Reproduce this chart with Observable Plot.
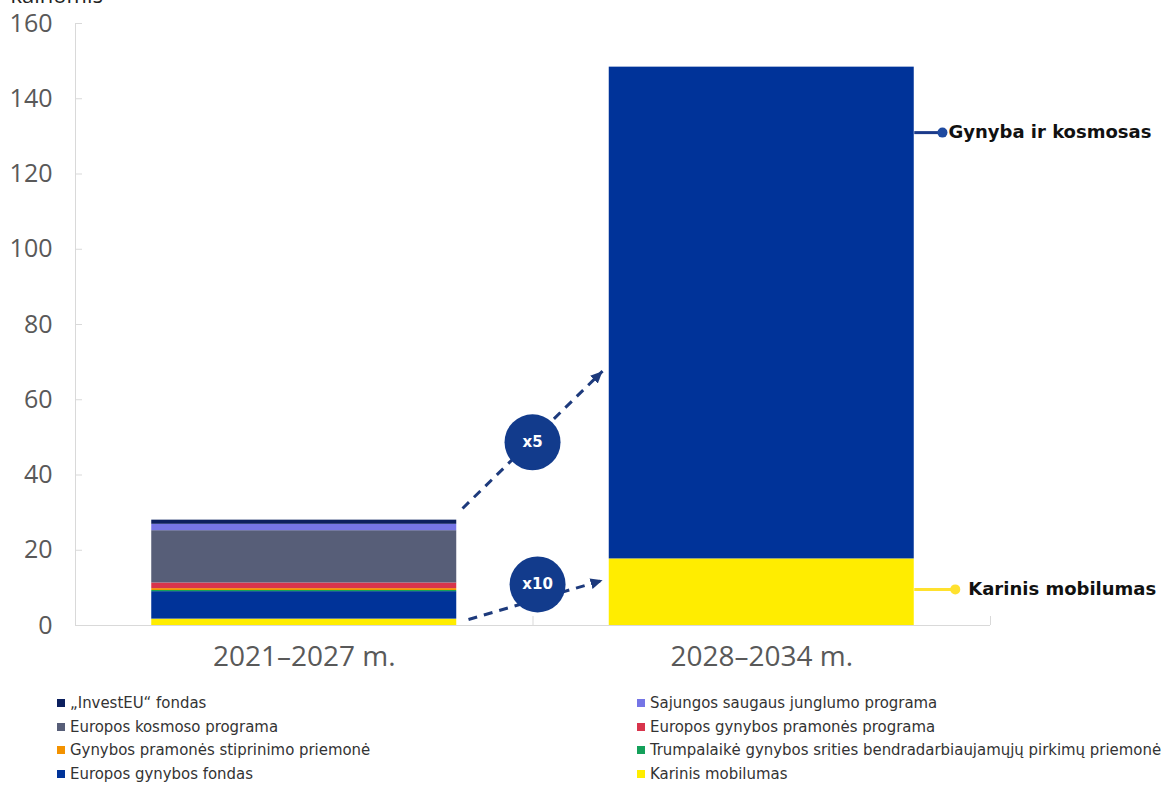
<!DOCTYPE html>
<html><head><meta charset="utf-8">
<script src="https://cdn.jsdelivr.net/npm/d3@7"></script>
<script src="https://cdn.jsdelivr.net/npm/@observablehq/plot@0.6"></script>
<style>
body{margin:0;background:#fff;font-family:"DejaVu Sans",sans-serif;}
#chart{position:relative;width:1167px;height:789px;overflow:hidden;background:#fff}
#legend{position:absolute;left:0;top:0;width:1167px;font-family:"DejaVu Sans Condensed","DejaVu Sans",sans-serif;font-size:16.6px;color:#333}
.item{position:absolute;display:flex;align-items:center;white-space:nowrap;line-height:18px}
.sw{width:8px;height:8px;margin-right:5px;flex:none}
</style></head><body><div id="chart"></div>
<script>
// ---- data ----
const periods = ["2021–2027 m.", "2028–2034 m."];
const yTicks = [0, 20, 40, 60, 80, 100, 120, 140, 160];
const axisTitle = ["kainomis"];

// bottom-to-top stack order
const series2021 = [
  "Karinis mobilumas",
  "Europos gynybos fondas",
  "Trumpalaikė gynybos srities bendradarbiaujamųjų pirkimų priemonė",
  "Gynybos pramonės stiprinimo priemonė",
  "Europos gynybos pramonės programa",
  "Europos kosmoso programa",
  "Sajungos saugaus junglumo programa",
  "„InvestEU“ fondas"
];
const values2021 = [1.7, 7.3, 0.3, 0.5, 1.5, 13.9, 1.7, 1.1];
const series2028 = ["Karinis mobilumas", "Gynyba ir kosmosas"];
const values2028 = [17.7, 130.7];

const colors = {
  "„InvestEU“ fondas": "#0b1f5e",
  "Sajungos saugaus junglumo programa": "#7575e6",
  "Europos kosmoso programa": "#575e78",
  "Europos gynybos pramonės programa": "#d8344c",
  "Gynybos pramonės stiprinimo priemonė": "#f39200",
  "Trumpalaikė gynybos srities bendradarbiaujamųjų pirkimų priemonė": "#14a05a",
  "Europos gynybos fondas": "#003399",
  "Karinis mobilumas": "#ffed00",
  "Gynyba ir kosmosas": "#003399"
};

const legendLeft = ["„InvestEU“ fondas", "Europos kosmoso programa", "Gynybos pramonės stiprinimo priemonė", "Europos gynybos fondas"];
const legendRight = ["Sajungos saugaus junglumo programa", "Europos gynybos pramonės programa", "Trumpalaikė gynybos srities bendradarbiaujamųjų pirkimų priemonė", "Karinis mobilumas"];

// growth arrows (x in category units: 0..2)
const arrowX1 = [0.846, 0.859], arrowY1 = [31.1, 1.6];
const arrowX2 = [1.152, 1.152], arrowY2 = [67.6, 12.0];
const badgeX = [0.999, 1.01], badgeY = [48.7, 10.9], badgeText = ["x5", "x10"];

// callouts on the right bar
const calloutNames = ["Gynyba ir kosmosas", "Karinis mobilumas"];
const calloutY = [131, 9.6];
const calloutDotX = [1.895, 1.923];
const calloutLine = ["#1b3a8a", "#ffe12e"];
const calloutDot = ["#1f4aa0", "#ffe12e"];

// ---- build ----
const rows = [];
[[series2021, values2021], [series2028, values2028]].forEach(([s, v], i) => {
  let c = 0;
  s.forEach((name, j) => { rows.push({i, name, y1: c, y2: c + v[j]}); c += v[j]; });
});
const arrows = arrowX1.map((_, k) => ({x1: arrowX1[k], y1: arrowY1[k], x2: arrowX2[k], y2: arrowY2[k]}));
const badges = badgeX.map((_, k) => ({x: badgeX[k], y: badgeY[k], t: badgeText[k]}));
const callouts = calloutNames.map((n, k) => ({name: n, y: calloutY[k], x1: 1 + 5/6, x2: calloutDotX[k], line: calloutLine[k], dot: calloutDot[k]}));

function triMarker(color) {
  const m = d3.create("svg:marker")
    .attr("viewBox", "-12 -6 12 12")
    .attr("markerWidth", 12).attr("markerHeight", 12)
    .attr("markerUnits", "userSpaceOnUse")
    .attr("orient", "auto")
    .attr("refX", 0).attr("refY", 0)
    .attr("fill", "#1d3a7c").attr("stroke", "none");
  m.append("path").attr("d", "M-12,-5.5L0,0L-12,5.5Z");
  return m.node();
}

const plot = Plot.plot({
  width: 1167, height: 680,
  marginLeft: 75, marginRight: 177, marginTop: 23, marginBottom: 55,
  x: {domain: [0, 2]},
  y: {domain: [0, 160]},
  color: {type: "identity"},
  style: {fontFamily: "'Open Sans', sans-serif", background: "white", overflow: "visible"},
  marks: [
    Plot.rectY(rows, {x1: d => d.i + 1/6, x2: d => d.i + 5/6, y1: "y1", y2: "y2", fill: d => colors[d.name]}),
    Plot.ruleY([0], {stroke: "#d9d9d9"}),
    Plot.ruleX([0], {stroke: "#d9d9d9"}),
    Plot.axisY({ticks: yTicks, tickSize: 0, tickPadding: 23, fontSize: 25, color: "#595959", label: null}),
    Plot.axisY({ticks: yTicks, tickSize: -7, text: null, stroke: "#d9d9d9", label: null}),
    Plot.axisX({ticks: [0.5, 1.5], tickFormat: d => periods[Math.floor(d)], tickSize: 0, tickPadding: 21, fontSize: 28, color: "#595959", label: null}),
    Plot.axisX({ticks: [1, 2], tickSize: -9, text: null, stroke: "#d9d9d9", label: null}),
    Plot.text(axisTitle, {frameAnchor: "top-left", text: d => d, textAnchor: "start", lineAnchor: "bottom", dx: -65, dy: -21, fontSize: 22, fill: "#222"}),
    Plot.link(arrows, {x1: "x1", y1: "y1", x2: "x2", y2: "y2", stroke: "#1d3a7c", strokeWidth: 3, strokeDasharray: "9,7", markerEnd: triMarker}),
    Plot.dot(badges, {x: "x", y: "y", r: 28, fill: "#123b8c", stroke: "none"}),
    Plot.text(badges, {x: "x", y: "y", text: "t", fill: "white", fontWeight: "bold", fontSize: 15, fontFamily: "DejaVu Sans"}),
    Plot.link(callouts, {x1: "x1", x2: "x2", y1: "y", y2: "y", stroke: d => d.line, strokeWidth: 3}),
    Plot.dot(callouts, {x: "x2", y: "y", r: 5, fill: d => d.dot, stroke: "none"}),
    Plot.text(callouts.filter((d, k) => k === 0), {x: "x2", y: "y", text: "name", textAnchor: "start", dx: 6, fontSize: 18, fontWeight: "bold", fill: "#111", fontFamily: "DejaVu Sans"}),
    Plot.text(callouts.filter((d, k) => k === 1), {x: "x2", y: "y", text: "name", textAnchor: "start", dx: 13, fontSize: 18, fontWeight: "bold", fill: "#111", fontFamily: "DejaVu Sans"})
  ]
});
const chart = document.getElementById("chart");
chart.appendChild(plot);

const legend = document.createElement("div");
legend.id = "legend";
const rowTops = [694, 718, 741, 765];
[[legendLeft, 57], [legendRight, 637]].forEach(([names, left]) => {
  names.forEach((n, k) => {
    const it = document.createElement("div");
    it.className = "item";
    it.style.left = left + "px";
    it.style.top = rowTops[k] + "px";
    const sw = document.createElement("span");
    sw.className = "sw";
    sw.style.background = colors[n];
    const tx = document.createElement("span");
    tx.textContent = n;
    it.appendChild(sw); it.appendChild(tx);
    legend.appendChild(it);
  });
});
chart.appendChild(legend);
</script>
</body></html>
